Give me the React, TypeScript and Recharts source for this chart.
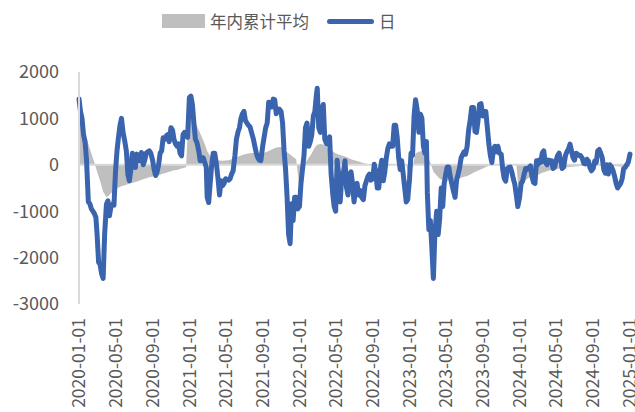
import {
  ComposedChart,
  Area,
  Line,
  XAxis,
  YAxis,
  ReferenceLine,
} from "recharts";

const years = [2020, 2021, 2022, 2023, 2024];
const dayOfMonth = [1, 11, 21];
const midDays = [6, 16, 26];

const tickLabels = [
  "2020-01-01", "2020-05-01", "2020-09-01",
  "2021-01-01", "2021-05-01", "2021-09-01",
  "2022-01-01", "2022-05-01", "2022-09-01",
  "2023-01-01", "2023-05-01", "2023-09-01",
  "2024-01-01", "2024-05-01", "2024-09-01",
  "2025-01-01",
];
const yTicks = [-3000, -2000, -1000, 0, 1000, 2000];

// 日 : values on the 1st, 11th, 21st of each month
const daily2020 = [
  1420, 1000, 500, -800, -950, -1050, -1500, -2150, -2450, -850, -1100, -850,
  -150, 600, 1000, 500, -200, -100, 100, 230, 86, 0, 250, 300,
  100, -230, 0, 300, 550, 650, 800, 550, 400, 250, 650, 650,
];
const daily2021 = [
  1450, 1300, 550, 300, 150, 50, -700, -400, 250, 0, -650, -450,
  -300, -330, -200, 200, 700, 1000, 1150, 900, 820, 560, 250, 100,
  400, 800, 1350, 1250, 1400, 1150, 1150, 300, -700, -1700, -1200, -700,
];
const daily2022 = [
  -900, -100, 800, 400, 650, 1150, 1650, 700, 1300, 450, 600, -600,
  -1000, -200, -300, 86, -650, -150, -800, -400, -550, -750, -350, -200,
  -300, -150, -500, 100, -150, 350, 400, 850, 600, -100, -200, -800,
];
const daily2023 = [
  -300, 200, 1400, 700, 1000, 250, -600, -1200, -2450, -1000, -1150, -900,
  -200, -50, -400, -700, -200, 150, 280, 400, 950, 1235, 700, 1300,
  1050, 1150, 450, 50, 400, 400, 230, -300, -80, -50, -300, -650,
];
const daily2024 = [
  -700, -350, -80, -60, -250, -400, 0, 50, 300, 0, 90, -80,
  86, 250, -80, 200, 340, 300, 100, 230, 200, 30, 120, -57,
  -80, 50, 330, 150, -180, -200, -50, -250, -500, -400, -80, 0,
];

// 日 : values on the 6th, 16th, 26th of each month
const dailyMid2020 = [
  1150, 650, 100, -840, -1000, -1135, -2100, -2350, -1500, -776, -900, -870,
  300, 850, 700, 302, -345, 250, -57, 150, 266, 100, 280, 250,
  -100, -150, 250, 580, 620, 500, 750, 450, 450, 194, 700, 590,
];
const dailyMid2021 = [
  1480, 900, 480, 86, 150, -50, -812, 0, 250, -300, -345, -400,
  -320, -300, -130, 550, 800, 1100, 950, 850, 700, 400, 150, 90,
  600, 900, 1300, 1415, 1100, 1200, 900, -100, -1500, -840, -700, -950,
];
const dailyMid2022 = [
  -400, 200, 900, 500, 1050, 1500, 800, 1200, 550, 550, -200, -900,
  100, -800, -200, -488, -200, -400, -500, -650, -700, -450, -250, -330,
  14, -500, -100, -345, 150, 450, 400, 850, 150, 86, -500, -750,
];
const dailyMid2023 = [
  250, 1050, 1200, 1092, 400, 500, -1400, -1800, -1500, -1500, -500, -400,
  -50, -250, -550, -330, -60, 220, 230, 750, 1235, 720, 948, 1320,
  1150, 800, 200, 320, 280, 250, -100, -350, -57, -150, -416, -900,
];
const dailyMid2024 = [
  -400, -200, -100, -22, -380, 86, 100, 250, 50, 100, 86, -50,
  200, 100, -50, 280, 445, 158, 250, 200, 150, 20, 80, -129,
  80, 300, 250, -100, 0, 0, -129, -400, -450, -300, -57, 50,
];

// 年内累计平均 : values on the 1st, 11th, 21st of each month
const ytd2020 = [
  1420, 1000, 680, 450, 250, 50, -150, -350, -580, -700, -650, -580,
  -530, -490, -460, -440, -420, -400, -380, -360, -340, -310, -290, -270,
  -250, -240, -230, -200, -180, -160, -140, -120, -110, -90, -70, -55,
];
const ytd2021 = [
  1450, 1300, 900, 750, 600, 450, 300, 180, 130, 100, 90, 85,
  90, 100, 120, 150, 175, 200, 220, 237, 250, 255, 260, 260,
  250, 270, 300, 330, 360, 380, 385, 330, 270, 220, 170, 120,
];
const ytd2022 = [
  -500, -200, 50, 150, 250, 380, 430, 450, 440, 380, 340, 290,
  250, 220, 200, 180, 150, 120, 100, 80, 60, 40, 20, 10,
  0, -10, -20, -20, -20, -15, -10, 0, 5, 0, -5, -10,
];
const ytd2023 = [
  -300, -50, 250, 280, 300, 280, 200, 50, -150, -230, -300, -330,
  -340, -340, -330, -320, -300, -280, -260, -240, -210, -170, -140, -110,
  -80, -50, -20, 0, 0, 5, 10, 5, 0, 0, 0, -10,
];
const ytd2024 = [
  -700, -450, -330, -280, -260, -250, -220, -190, -160, -140, -120, -110,
  -95, -80, -70, -60, -50, -40, -35, -30, -25, -20, -20, -20,
  -20, -15, -15, -10, -15, -15, -20, -25, -30, -35, -35, -35,
];

const lastDate = "2025-01-01";
const lastDaily = 230;
const lastYtd = -40;

const dailyByYear = [daily2020, daily2021, daily2022, daily2023, daily2024];
const dailyMidByYear = [dailyMid2020, dailyMid2021, dailyMid2022, dailyMid2023, dailyMid2024];
const ytdByYear = [ytd2020, ytd2021, ytd2022, ytd2023, ytd2024];

const rows: { t: number; daily: number; ytd?: number }[] = [];
years.forEach((y, yi) => {
  for (let m = 0; m < 12; m++) {
    for (let di = 0; di < 3; di++) {
      const i = m * 3 + di;
      rows.push({
        t: Date.UTC(y, m, dayOfMonth[di]),
        daily: dailyByYear[yi][i],
        ytd: ytdByYear[yi][i],
      });
      rows.push({
        t: Date.UTC(y, m, midDays[di]),
        daily: dailyMidByYear[yi][i],
      });
    }
  }
});
rows.push({ t: Date.parse(lastDate), daily: lastDaily, ytd: lastYtd });

const xTicks = tickLabels.map((s) => Date.parse(s));

const fmtDate = (v: number) => new Date(v).toISOString().slice(0, 10);

const FONT = '"Noto Sans CJK SC", "Noto Sans", sans-serif';
const TEXT = "#595959";
const BLUE = "#3a64ae";
const GRAY = "#bfbfbf";

function DateTick({ x, y, payload }: any) {
  return (
    <g transform={`translate(${x},${y})`}>
      <text
        transform="rotate(-90)"
        x={-12}
        y={0}
        dy="0.35em"
        textAnchor="end"
        fill={TEXT}
        fontSize={17.5}
        fontFamily={FONT}
      >
        {fmtDate(payload.value)}
      </text>
    </g>
  );
}

export default function App() {
  return (
    <div
      style={{
        position: "absolute",
        left: 0,
        top: 0,
        width: 635,
        height: 412,
        background: "#fff",
        fontFamily: FONT,
      }}
    >
      {/* legend */}
      <div
        style={{
          position: "absolute",
          top: 9,
          left: 162,
          display: "flex",
          alignItems: "center",
          color: TEXT,
          fontSize: 16.5,
          lineHeight: "24px",
        }}
      >
        <span
          style={{ width: 43, height: 14, background: GRAY, display: "inline-block" }}
        />
        <span style={{ marginLeft: 5 }}>年内累计平均</span>
        <span
          style={{
            width: 47,
            height: 5,
            borderRadius: 3,
            background: BLUE,
            display: "inline-block",
            marginLeft: 18,
          }}
        />
        <span style={{ marginLeft: 5 }}>日</span>
      </div>

      <ComposedChart
        width={635}
        height={412}
        data={rows}
        margin={{ top: 72, right: 5, left: 0, bottom: 8 }}
      >
        <XAxis
          dataKey="t"
          type="number"
          scale="time"
          domain={[xTicks[0], xTicks[xTicks.length - 1]]}
          ticks={xTicks}
          interval={0}
          height={100}
          axisLine={false}
          tickLine={false}
          tickSize={0}
          tick={<DateTick />}
        />
        <YAxis
          type="number"
          domain={[-3000, 2000]}
          ticks={yTicks}
          width={79}
          axisLine={{ stroke: "#d9d9d9", strokeWidth: 2 }}
          tickLine={false}
          tickSize={0}
          tickMargin={20}
          tick={{ fill: TEXT, fontSize: 18, fontFamily: FONT }}
        />
        <ReferenceLine y={0} stroke="#d9d9d9" strokeWidth={2} />
        <Area
          type="linear"
          dataKey="ytd"
          name="年内累计平均"
          fill={GRAY}
          fillOpacity={1}
          stroke="none"
          baseValue={0}
          connectNulls
          isAnimationActive={false}
        />
        <Line
          type="linear"
          dataKey="daily"
          name="日"
          stroke={BLUE}
          strokeWidth={5}
          strokeLinejoin="round"
          strokeLinecap="round"
          dot={false}
          isAnimationActive={false}
        />
      </ComposedChart>
    </div>
  );
}
